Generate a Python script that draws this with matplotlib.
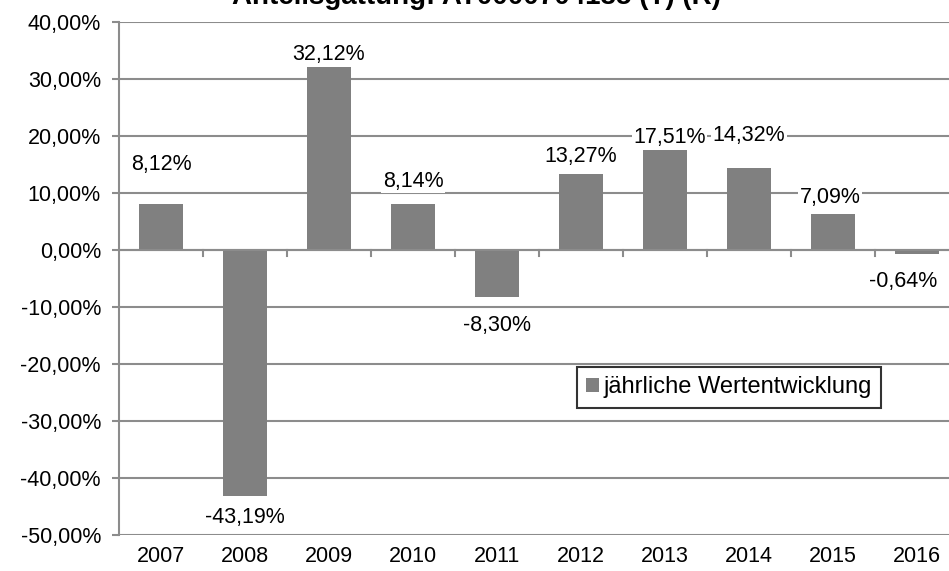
import numpy as np
import matplotlib.pyplot as plt
from matplotlib.ticker import FuncFormatter

plt.rcParams['font.family'] = ['Liberation Sans', 'DejaVu Sans']

# Daten
jahre = ['2007', '2008', '2009', '2010', '2011', '2012', '2013', '2014', '2015', '2016']
werte = [8.12, -43.19, 32.12, 8.14, -8.30, 13.27, 17.51, 14.32, 6.3, -0.64]
beschriftung = ['8,12%', '-43,19%', '32,12%', '8,14%', '-8,30%', '13,27%',
                '17,51%', '14,32%', '7,09%', '-0,64%']
titel = 'Anteilsgattung: AT0000704135 (T) (R)'

# Versatz der Beschriftungen (Punkte)
versatz_y = [28, -15, 9, 16, -20, 13, 9, 24, 12, -20]
versatz_x = [0, 0, 0, 0, 0, 0, 3, 0, -2, -10]

grau = '#808080'
linie = '#8c8c8c'
fs = 15.5

fig = plt.figure(figsize=(9.49, 5.71), dpi=100)
ax = fig.add_axes([119 / 949, 36 / 571, 840 / 949, 513 / 571])

x = np.arange(len(jahre))
ax.bar(x, werte, width=0.53, color=grau, zorder=2, label='jährliche Wertentwicklung')

ax.set_xlim(-0.5, len(jahre) - 0.5)
ax.set_ylim(-50, 40)
ax.set_yticks(np.arange(-50, 41, 10))
ax.yaxis.set_major_formatter(FuncFormatter(lambda v, p: ('%.2f%%' % v).replace('.', ',')))
ax.yaxis.grid(True, color=linie, linewidth=1.5, zorder=0)
ax.set_axisbelow(True)

# Kategorienachse bei 0
ax.axhline(0, color=linie, linewidth=1.5, zorder=3)
for b in np.arange(0.5, len(jahre) - 0.5, 1):
    ax.plot([b, b], [0, -1.05], color=linie, linewidth=1.5, zorder=3, clip_on=False)
ax.set_xticks(x)
ax.set_xticklabels(jahre)
ax.tick_params(axis='x', length=0, pad=8, labelsize=fs)
ax.tick_params(axis='y', length=5, width=1.5, color=linie, labelsize=fs, pad=8)

for s in ['top', 'right', 'bottom']:
    ax.spines[s].set_visible(False)
ax.spines['left'].set_color(linie)
ax.spines['left'].set_linewidth(1.5)

for i, v in enumerate(werte):
    ax.annotate(beschriftung[i], (x[i], v), xytext=(versatz_x[i], versatz_y[i]),
                textcoords='offset points', ha='center', va='center', fontsize=fs,
                bbox=dict(facecolor='white', edgecolor='none', pad=1), zorder=4)

leg = ax.legend(loc='center', bbox_to_anchor=(729 / 949, 183.5 / 571),
                bbox_transform=fig.transFigure, fontsize=17, frameon=True,
                fancybox=False, handlelength=0.55, handleheight=0.55, handletextpad=0.2,
                borderpad=0.4, borderaxespad=0)
leg.get_frame().set_edgecolor('black')
leg.get_frame().set_linewidth(1.5)

fig.text(476 / 949, 567 / 571, titel, ha='center', va='baseline', fontsize=20, fontweight='bold')

fig.savefig('out.png', dpi=100)
